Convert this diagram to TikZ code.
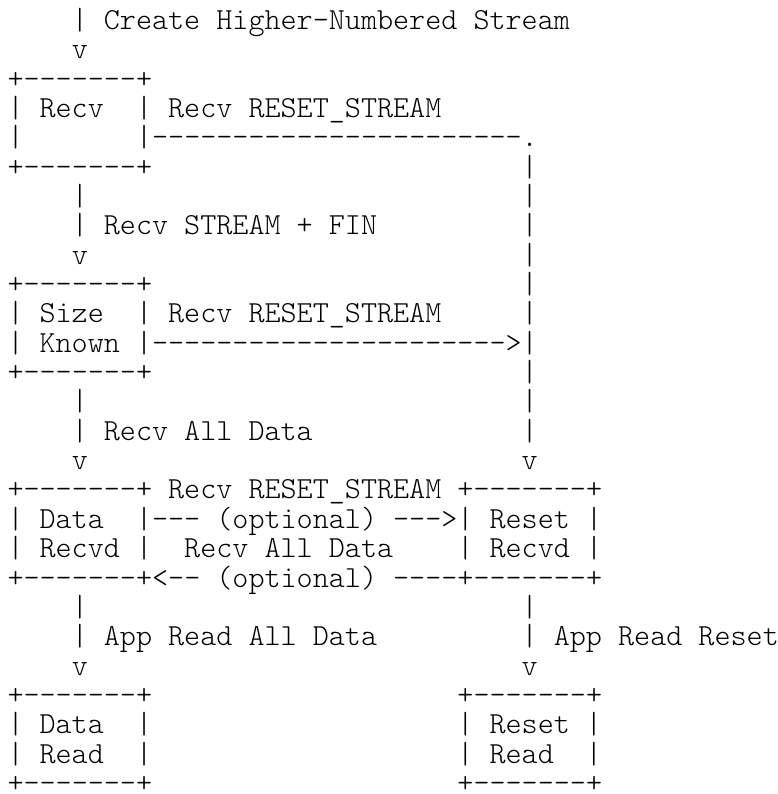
\documentclass[tikz,border=0pt]{standalone}
\usepackage{tikz}
% n blank columns of the monospaced grid
\newcommand{\asciigap}[1]{\kern#1\fontdimen2\font}
\newcommand{\asciiface}{\fontseries{l}\ttfamily}
\newdimen\asciiw

\begin{document}
% size the typewriter font so that one column is 16.07pt wide
\setbox0=\hbox{\asciiface\fontsize{20pt}{24pt}\selectfont M}\global\asciiw=\wd0
\begin{tikzpicture}[
  x=16.07pt, y=-29.35pt,
  asciirow/.style={anchor=base west, inner sep=0pt, font=\asciiface\fontsize{\asciisize pt}{29.35pt}\selectfont}
]
\pgfmathsetmacro{\asciisize}{16.07*20/\asciiw}
\useasboundingbox (-7.3pt,0pt) rectangle ++(777pt,-794pt);
\foreach \txt [count=\n] in {
  {\asciigap{4}| Create Higher-Numbered Stream},
  {\asciigap{4}v},
  {+-------+},
  {| Recv\asciigap{2}| Recv RESET\_STREAM},
  {|\asciigap{7}|-----------------------.},
  {+-------+\asciigap{23}|},
  {\asciigap{4}|\asciigap{27}|},
  {\asciigap{4}| Recv STREAM + FIN\asciigap{9}|},
  {\asciigap{4}v\asciigap{27}|},
  {+-------+\asciigap{23}|},
  {| Size\asciigap{2}| Recv RESET\_STREAM\asciigap{5}|},
  {| Known |---------------------->|},
  {+-------+\asciigap{23}|},
  {\asciigap{4}|\asciigap{27}|},
  {\asciigap{4}| Recv All Data\asciigap{13}|},
  {\asciigap{4}v\asciigap{27}v},
  {+-------+ Recv RESET\_STREAM +-------+},
  {| Data\asciigap{2}|--- (optional) --->| Reset |},
  {| Recvd |\asciigap{2}Recv All Data\asciigap{4}| Recvd |},
  {+-------+<-- (optional) ----+-------+},
  {\asciigap{4}|\asciigap{27}|},
  {\asciigap{4}| App Read All Data\asciigap{9}| App Read Reset},
  {\asciigap{4}v\asciigap{27}v},
  {+-------+\asciigap{19}+-------+},
  {| Data\asciigap{2}|\asciigap{19}| Reset |},
  {| Read\asciigap{2}|\asciigap{19}| Read\asciigap{2}|},
  {+-------+\asciigap{19}+-------+}
}
  \node[asciirow] (row\n) at (0,\n) {\txt};
\end{tikzpicture}
\end{document}
